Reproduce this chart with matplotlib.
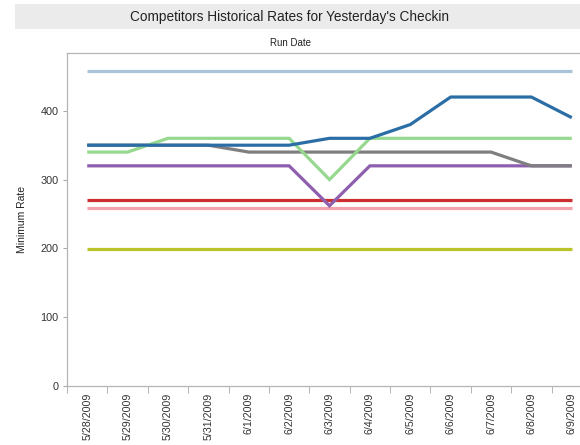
import matplotlib
matplotlib.use("Agg")
import matplotlib.pyplot as plt
from matplotlib.patches import Rectangle
import numpy as np

plt.rcParams['font.family'] = ['Liberation Sans', 'DejaVu Sans']

dates = ["5/28/2009", "5/29/2009", "5/30/2009", "5/31/2009", "6/1/2009", "6/2/2009",
         "6/3/2009", "6/4/2009", "6/5/2009", "6/6/2009", "6/7/2009", "6/8/2009", "6/9/2009"]

light_blue = [458] * 13
olive = [199] * 13
pink = [259] * 13
red = [271] * 13
purple = [320, 320, 320, 320, 320, 320, 262, 320, 320, 320, 320, 320, 320]
grey = [350, 350, 350, 350, 340, 340, 340, 340, 340, 340, 340, 320, 320]
green = [340, 340, 360, 360, 360, 360, 300, 360, 360, 360, 360, 360, 360]
blue = [350, 350, 350, 350, 350, 350, 360, 360, 380, 420, 420, 420, 390]

yticks = [0, 100, 200, 300, 400]

series = [
    (light_blue, "#a9c4d6"),
    (olive, "#b8c42a"),
    (pink, "#f2a3ab"),
    (red, "#cc2f2f"),
    (purple, "#8e5fae"),
    (grey, "#7f7f7f"),
    (green, "#96d98e"),
    (blue, "#2b6ea6"),
]

fig = plt.figure(figsize=(5.8, 4.45), dpi=100)

# title band
fig.patches.append(Rectangle((15 / 580, 1 - 29 / 445), 1 - 15 / 580, 25 / 445,
                             transform=fig.transFigure, facecolor="#ebebeb",
                             edgecolor="none", zorder=0))
fig.text(0.5, 1 - 17 / 445, "Competitors Historical Rates for Yesterday's Checkin",
         ha="center", va="center", fontsize=9.8, color="#222222")
fig.text(0.5, 1 - 43 / 445, "Run Date", ha="center", va="center",
         fontsize=7, color="#222222")

ax = fig.add_axes([67 / 580, 1 - 386 / 445, (592 - 67) / 580, (386 - 53) / 445])
x = np.arange(len(dates))
for vals, col in series:
    ax.plot(x, vals, color=col, lw=2.3, solid_capstyle="butt", solid_joinstyle="miter")

ax.set_xlim(-0.5, len(dates) - 0.5)
ax.set_ylim(0, 484)
ax.set_yticks(yticks)
ax.set_yticklabels([str(v) for v in yticks], fontsize=7.8, color="#333333")
ax.tick_params(axis="y", length=3, color="#aaaaaa", pad=3)
ax.set_xticks(x)
ax.set_xticklabels(dates, rotation=90, fontsize=7.7, color="#333333", va="top")
ax.tick_params(axis="x", length=0, pad=5)
ax.set_xticks(np.arange(-0.5, len(dates), 1.0), minor=True)
ax.tick_params(axis="x", which="minor", length=5, color="#aaaaaa")
ax.set_ylabel("Minimum Rate", fontsize=7.5, color="#222222")
ax.yaxis.set_label_coords(-40 / 525, 0.5)

for s in ["left", "top", "bottom"]:
    ax.spines[s].set_color("#b5b5b5")
    ax.spines[s].set_linewidth(0.9)
ax.spines["right"].set_visible(False)

fig.savefig("out.png", dpi=100)
